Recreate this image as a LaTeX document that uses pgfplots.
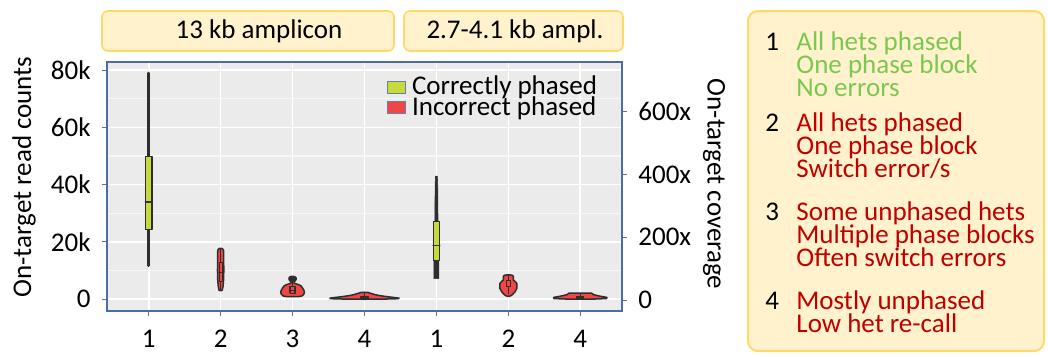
\documentclass[border=0pt]{standalone}
\usepackage{fontspec}
\setmainfont{Carlito}
\usepackage{pgfplots}
\pgfplotsset{compat=1.18}
\definecolor{vgreen}{HTML}{C6DB3B}
\definecolor{vred}{HTML}{F04646}
\definecolor{vdark}{HTML}{2E2E2E}
\definecolor{bgray}{HTML}{EBEBEB}
\definecolor{frameblue}{HTML}{4A6DA7}
\definecolor{boxfill}{HTML}{FFF2CC}
\definecolor{boxdraw}{HTML}{FFD966}
\definecolor{tgreen}{HTML}{7BC850}
\definecolor{tred}{HTML}{C00000}
\definecolor{legframe}{HTML}{6A7FA8}
\definecolor{tickgray}{HTML}{707070}
\pgfplotsset{
  vline/.style={forget plot, vdark, line width=0.5pt, line cap=round},
  vwhisk/.style={forget plot, vdark, line width=1.5pt, line cap=round},
  vbody/.style={forget plot, draw=vdark, fill=#1, line width=0.75pt, line join=round},
  vbox/.style={forget plot, draw=vdark, fill=#1, line width=0.6pt, line join=round},
}
\begin{document}
\fontsize{13.5}{16}\selectfont
\begin{tikzpicture}
\begin{scope}[x=0.5pt,y=-0.5pt]
\useasboundingbox (0,0) rectangle (1048,354);
% panel titles
\draw[boxdraw, fill=boxfill, line width=0.8pt, rounded corners=3pt] (102,11) rectangle (394,51);
\node[anchor=base, inner sep=0pt] at (259,38) {13 kb amplicon};
\draw[boxdraw, fill=boxfill, line width=0.8pt, rounded corners=3pt] (404,11) rectangle (623,51);
\node[anchor=base, inner sep=0pt] at (515,38) {2.7-4.1 kb ampl.};
% axis titles
\node[rotate=90, inner sep=0pt] at (24,177) {On-target read counts};
\node[rotate=-90, inner sep=0pt] at (714,184) {On-target coverage};
% category explanation panel
\draw[boxdraw, fill=boxfill, line width=1pt, rounded corners=5pt] (748,11) rectangle (1044,351);
\begin{scope}[every node/.style={anchor=base west, inner sep=0pt}]
\node at (765,50) {1};
\node[text=tgreen] at (796,50) {All hets phased};
\node[text=tgreen] at (796,73) {One phase block};
\node[text=tgreen] at (796,96) {No errors};
\node at (765,131) {2};
\node[text=tred] at (796,131) {All hets phased};
\node[text=tred] at (796,154) {One phase block};
\node[text=tred] at (796,177) {Switch error/s};
\node at (765,220) {3};
\node[text=tred] at (796,220) {Some unphased hets};
\node[text=tred] at (796,243) {Multiple phase blocks};
\node[text=tred] at (796,266) {Often switch errors};
\node at (765,309) {4};
\node[text=tred] at (796,309) {Mostly unphased};
\node[text=tred] at (796,332) {Low het re-call};
\end{scope}
\end{scope}

\begin{axis}[
  at={(53.5pt,-155.5pt)}, anchor=south west,
  scale only axis, width=257.5pt, height=124.5pt,
  xmin=-0.58, xmax=6.58, ymin=-4100, ymax=82800,
  axis background/.style={fill=bgray},
  axis line style={frameblue, line width=0.6pt},
  xtick={0,1,2,3,4,5,6}, xticklabels={1,2,3,4,1,2,4},
  ytick={0,20000,40000,60000,80000}, yticklabels={0,20k,40k,60k,80k},
  minor ytick={10000,30000,50000,70000},
  scaled y ticks=false,
  tick align=outside, tick pos=left,
  major tick length=2.5pt, minor tick length=0pt,
  major tick style={tickgray, line width=0.5pt},
  xmajorgrids, ymajorgrids, yminorgrids,
  major grid style={white, line width=0.8pt},
  minor grid style={white!60!bgray, line width=0.6pt},
  yticklabel style={anchor=east, xshift=-1pt},
  xticklabel style={anchor=base, yshift=-15.5pt},
  /pgf/number format/assume math mode=true,
  legend style={at={(axis description cs:0.543,0.955)}, anchor=north west, draw=none, fill=none,
    row sep=-3pt, column sep=2pt, inner sep=0pt, nodes={inner sep=1pt}},
  legend cell align=left,
  legend image code/.code={\draw[#1, draw=legframe, line width=0.5pt] (0pt,-3pt) rectangle (9pt,3pt);},
]
\addlegendimage{fill=vgreen}
\addlegendentry{Correctly phased}
\addlegendimage{fill=vred}
\addlegendentry{Incorrect phased}

% ---- 1 (13 kb), correctly phased
\addplot[vwhisk] coordinates {(0,11700) (0,78900)};
\addplot[vbox=vgreen] coordinates {(-0.045,24400) (0.045,24400) (0.045,49800) (-0.045,49800) (-0.045,24400)};
\addplot[vline, line width=0.8pt] coordinates {(-0.045,33900) (0.045,33900)};

% ---- 2 (13 kb)
\addplot[vbody=vred] coordinates {(1.000,17800) (1.025,17650) (1.040,17100) (1.042,14000) (1.044,10000) (1.040,6500) (1.033,4500) (1.022,3100) (1.000,3000) (0.978,3100) (0.967,4500) (0.960,6500) (0.956,10000) (0.958,14000) (0.960,17100) (0.975,17650) (1.000,17800)};
\addplot[vline] coordinates {(1,3000) (1,6100)};
\addplot[vline] coordinates {(1,13000) (1,17800)};
\addplot[vbox=vred, line width=0.5pt] coordinates {(0.98,6100) (1.02,6100) (1.02,13000) (0.98,13000) (0.98,6100)};
\addplot[vline] coordinates {(0.975,9200) (1.025,9200)};

% ---- 3 (13 kb)
\addplot[vbody=vred] coordinates {(2.000,8000) (2.030,7900) (2.048,7500) (2.050,7000) (2.040,6500) (2.022,6150) (2.020,5700) (2.050,5350) (2.090,5050) (2.120,4600) (2.140,3900) (2.158,3100) (2.165,2400) (2.155,1700) (2.130,1150) (2.090,950) (2.000,900) (1.910,950) (1.870,1150) (1.845,1700) (1.835,2400) (1.842,3100) (1.860,3900) (1.880,4600) (1.910,5050) (1.950,5350) (1.980,5700) (1.978,6150) (1.960,6500) (1.950,7000) (1.952,7500) (1.970,7900) (2.000,8000)};
\addplot[vbox=vdark] coordinates {(2.000,7900) (2.035,7700) (2.042,7100) (2.025,6500) (2.000,6350) (1.975,6500) (1.958,7100) (1.965,7700) (2.000,7900)};
\addplot[vline] coordinates {(2,4400) (2,6400)};
\addplot[vbox=vred] coordinates {(1.965,2100) (2.035,2100) (2.035,4400) (1.965,4400) (1.965,2100)};
\addplot[vline] coordinates {(1.965,3200) (2.035,3200)};

% ---- 4 (13 kb)
\addplot[vbody=vred] coordinates {(3.000,2450) (3.050,2380) (3.090,2050) (3.150,1600) (3.220,1250) (3.300,950) (3.400,650) (3.480,400) (3.470,200) (3.300,80) (3.000,0) (2.700,80) (2.530,200) (2.520,400) (2.600,650) (2.700,950) (2.780,1250) (2.850,1600) (2.910,2050) (2.950,2380) (3.000,2450)};
\addplot[vline] coordinates {(3,1000) (3,2400)};
\addplot[vbox=vdark] coordinates {(2.95,150) (3.05,150) (3.05,1000) (2.95,1000) (2.95,150)};

% ---- 1 (2.7-4.1 kb), correctly phased
\addplot[vbox=vdark, line width=0.3pt] coordinates {(3.965,7200) (4.035,7200) (4.035,13400) (4.022,27100) (4.018,40000) (4.012,43000) (3.988,43000) (3.982,40000) (3.978,27100) (3.965,13400) (3.965,7200)};
\addplot[vbox=vgreen] coordinates {(3.954,13400) (4.046,13400) (4.046,27100) (3.954,27100) (3.954,13400)};
\addplot[vline, line width=0.8pt] coordinates {(3.954,18700) (4.046,18700)};

% ---- 2 (2.7-4.1 kb)
\addplot[vbody=vred] coordinates {(5.000,8500) (5.045,8450) (5.068,8100) (5.070,6700) (5.095,6200) (5.118,5500) (5.120,3900) (5.095,2700) (5.060,1700) (5.030,1150) (5.000,1100) (4.970,1150) (4.940,1700) (4.905,2700) (4.880,3900) (4.882,5500) (4.905,6200) (4.930,6700) (4.932,8100) (4.955,8450) (5.000,8500)};
\addplot[vline] coordinates {(5,6500) (5,8200)};
\addplot[vline] coordinates {(5,2000) (5,4300)};
\addplot[vbox=vred, line width=0.5pt] coordinates {(4.97,4300) (5.03,4300) (5.03,6500) (4.97,6500) (4.97,4300)};

% ---- 4 (2.7-4.1 kb)
\addplot[vbody=vred] coordinates {(6.000,2100) (6.160,2100) (6.185,1600) (6.280,1050) (6.370,650) (6.365,250) (6.200,80) (6.000,30) (5.800,80) (5.635,250) (5.630,650) (5.720,1050) (5.815,1600) (5.840,2100) (6.000,2100)};
\addplot[vline] coordinates {(6,1100) (6,2000)};
\addplot[vbox=vdark] coordinates {(5.95,150) (6.05,150) (6.05,1100) (5.95,1100) (5.95,150)};
\end{axis}

\begin{axis}[
  at={(53.5pt,-155.5pt)}, anchor=south west,
  scale only axis, width=257.5pt, height=124.5pt,
  xmin=-0.58, xmax=6.58, ymin=-35, ymax=758,
  axis x line=none, axis y line*=right,
  axis line style={frameblue, line width=0.6pt},
  ytick={0,200,400,600}, yticklabels={0,200x,400x,600x},
  tick align=outside, major tick length=2.5pt,
  major tick style={tickgray, line width=0.5pt},
  yticklabel style={anchor=west, xshift=1pt},
  /pgf/number format/assume math mode=true,
]
\addplot[draw=none, forget plot] coordinates {(0,0)};
\end{axis}
\end{tikzpicture}
\end{document}
